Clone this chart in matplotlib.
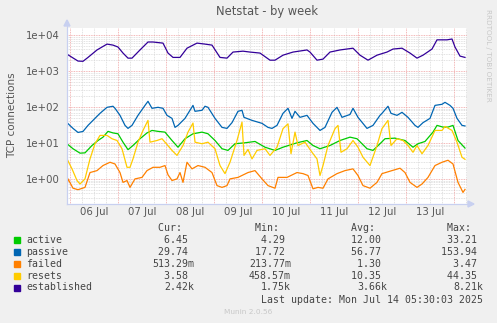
import matplotlib
matplotlib.use("Agg")
import matplotlib.pyplot as plt
from matplotlib.ticker import FixedLocator
import numpy as np

# data: hours since 06 Jul 00:00
est_h = [-1.5, 4, 6.5, 9, 13.5, 18.5, 21.5, 24, 26.5, 29, 31, 35, 39, 41.5, 46.5, 49, 51.5, 55,
         58.5, 63.5, 67.5, 71, 75, 78.5, 81.5, 86.5, 90, 95, 100, 102.5, 106.5, 111.5, 118.5,
         120, 123.5, 126.5, 130, 135, 141.5, 145, 149, 153.5, 158.5, 161.5, 166, 170, 173.5,
         176.5, 181, 183.5, 188.5, 191, 192.5, 195, 197.5]
est_v = [2950, 1900, 1870, 2400, 3870, 5630, 5280, 4670, 3170, 2290, 2290, 3870, 6440, 6440, 6000,
         3170, 2400, 2400, 4330, 6000, 5630, 5280, 2400, 2290, 3380, 3580, 3380, 3170, 2010, 2010,
         2770, 3380, 3870, 3380, 2010, 2150, 3380, 3870, 4330, 2770, 2010, 2770, 3380, 4100, 4330,
         3170, 2290, 2770, 4100, 7400, 7400, 7800, 4670, 2610, 2400]

pas_x = [67, 73, 78, 83, 88, 93, 100, 107, 113, 115, 120, 125, 128, 132, 138, 145, 148, 152, 158,
         163, 167, 172, 175, 178, 185, 193, 195, 202, 205, 208, 215, 222, 227, 232, 238, 242, 244,
         252, 262, 268, 272, 277, 283, 288, 292, 295, 300, 307, 313, 320, 325, 332, 337, 342, 350,
         353, 358, 367, 373, 380, 382, 388, 391, 397, 402, 408, 415, 418, 423, 430, 435, 442, 445,
         450, 453, 457, 462, 465]
pas_v = [36.7, 25.4, 19.6, 20.9, 30.8, 42.5, 66.7, 98, 105, 92, 58.6, 30.8, 25.4, 30.8, 58.6, 111,
         144, 92, 98, 92, 58.6, 48.3, 27.1, 30.8, 48.3, 111, 75.9, 81, 105, 98, 48.3, 27.1, 25.4,
         36.7, 75.9, 81, 51.6, 42.5, 35.1, 27.1, 25.4, 30.8, 66.7, 92, 48.3, 75.9, 51.6, 58.6,
         35.1, 22.3, 27.1, 71.1, 98, 51.6, 62, 92, 51.6, 25.4, 30.8, 58.6, 66.7, 105, 66.7, 58.6,
         71.1, 51.6, 30.8, 27.1, 36.7, 48.3, 111, 119, 135, 111, 92, 48.3, 30.8, 29.7]

act_x = [67, 73, 80, 85, 92, 98, 103, 108, 113, 118, 123, 128, 133, 140, 147, 152, 158, 165, 172,
         178, 185, 193, 202, 208, 215, 222, 228, 235, 245, 255, 265, 275, 283, 297, 307, 313, 320,
         330, 340, 350, 357, 367, 373, 380, 385, 395, 405, 413, 418, 425, 433, 437, 443, 448, 453,
         458, 465]
act_v = [9.5, 6.9, 5.2, 5.3, 8.5, 11.7, 14.5, 21, 19, 18, 10.5, 6.5, 8.5, 13.1, 19, 22.3, 21, 20,
         11.7, 7.6, 13.1, 18, 20, 18, 11.7, 6.9, 6.2, 9.5, 10.1, 11, 7.6, 6.2, 7.6, 10.1, 11.7, 8.5,
         6.9, 8.5, 11.7, 14.5, 13.1, 6.9, 6.2, 9.5, 13.1, 13.6, 11.7, 7.6, 9.5, 11, 20, 30.8, 27.6,
         27.6, 30.8, 11.7, 7.2]

res_x = [67, 72, 77, 80, 85, 90, 95, 100, 107, 112, 117, 122, 127, 130, 133, 138, 143, 148, 150,
         157, 162, 165, 172, 177, 183, 188, 193, 195, 202, 208, 215, 220, 225, 230, 237, 242, 244,
         248, 252, 257, 265, 270, 277, 283, 288, 291, 295, 298, 305, 312, 317, 320, 323, 328, 335,
         338, 341, 347, 353, 358, 363, 370, 377, 382, 388, 391, 397, 403, 408, 413, 417, 422, 428,
         435, 442, 445, 452, 457, 462, 465]
res_v = [3.6, 1.9, 0.9, 0.72, 1.0, 3.6, 9.5, 16.2, 16.2, 13.1, 11.7, 6.9, 2.1, 2.1, 3.6, 10.5,
         22.3, 42.5, 10.5, 11.7, 13.1, 10.5, 6.2, 4.5, 8.5, 20, 35.8, 10.5, 9.5, 10.5, 6.9, 2.35,
         1.4, 2.9, 11.7, 38, 4.5, 6.6, 3.6, 6.2, 6.9, 4.5, 7.6, 25, 34, 5, 20, 8.5, 10.5, 5.5, 3.6,
         1.24, 2.35, 8.5, 25, 30.8, 5.5, 6.9, 11.7, 7.6, 4.0, 2.35, 8.5, 25, 42.5, 8.5, 13.1, 11.7,
         8.5, 5.5, 8.5, 5, 8.5, 22.3, 22.3, 28.8, 22.3, 10.5, 4.0, 3.5]

fail_x = [67, 68, 73, 78, 85, 90, 97, 103, 110, 115, 120, 123, 127, 130, 135, 142, 147, 153, 160,
          165, 168, 172, 177, 180, 183, 187, 192, 198, 205, 212, 217, 222, 227, 230, 238, 248, 255,
          262, 268, 275, 278, 287, 297, 303, 308, 313, 318, 323, 328, 337, 345, 353, 358, 363, 370,
          377, 382, 392, 400, 405, 410, 417, 422, 428, 435, 442, 448, 453, 458, 463, 465]
fail_v = [0.65, 1.0, 0.55, 0.5, 0.58, 1.5, 1.7, 2.35, 2.9, 2.6, 1.5, 0.8, 0.9, 0.58, 1.0, 1.1, 1.7,
          2.1, 2.1, 2.35, 1.3, 0.9, 1.0, 1.5, 0.8, 2.9, 1.9, 2.35, 2.1, 1.5, 0.65, 0.58, 0.65, 1.0,
          1.1, 1.5, 1.7, 1.0, 0.65, 0.55, 1.1, 1.1, 1.5, 1.4, 1.24, 0.53, 0.58, 0.55, 1.0, 1.4, 1.7,
          1.9, 1.24, 0.65, 0.55, 0.8, 1.4, 1.7, 1.98, 1.5, 0.8, 0.58, 0.72, 1.1, 2.35, 2.9, 3.3,
          2.6, 0.8, 0.42, 0.51]

names = ["active", "passive", "failed", "resets", "established"]
colors = ["#00CC00", "#0066B3", "#FF8000", "#FFCC00", "#330099"]
cur = ["6.45 ", "29.74 ", "513.29m", "3.58 ", "2.42k"]
mins = ["4.29 ", "17.72 ", "213.77m", "458.57m", "1.75k"]
avgs = ["12.00 ", "56.77 ", "1.30 ", "10.35 ", "3.66k"]
maxs = ["33.21 ", "153.94 ", "3.47 ", "44.35 ", "8.21k"]
day_labels = ["06 Jul", "07 Jul", "08 Jul", "09 Jul", "10 Jul", "11 Jul", "12 Jul", "13 Jul"]


def px_to_h(xs):
    # plot pixel column -> hours (2 px per hour, 06 Jul 00:00 at px 70)
    return [(x - 70) / 2.0 for x in xs]


W, H = 497, 323
fig = plt.figure(figsize=(W / 100, H / 100), dpi=100, facecolor="#F0F0F0")
ax = fig.add_axes([67 / W, 1 - 204 / H, 400 / W, 176 / H])
ax.set_facecolor("white")

series = [
    (px_to_h(act_x), act_v),
    (px_to_h(pas_x), pas_v),
    (px_to_h(fail_x), fail_v),
    (px_to_h(res_x), res_v),
    (est_h, est_v),
]
for (hx, hv), c in zip(series, colors):
    ax.plot(hx, hv, color=c, lw=0.9, zorder=3)

ax.set_yscale("log")
ax.set_xlim(-1.5, 198.5)
ax.set_ylim(0.2, 15800)

# grid
minor_y = [m * 10.0 ** e for e in range(-1, 5) for m in range(2, 10)]
for v in minor_y:
    ax.axhline(v, color="#d8d8d8", lw=0.6, ls=(0, (1, 1)), zorder=1)
for e in range(0, 5):
    ax.axhline(10.0 ** e, color="#f0a0a0", lw=0.6, ls=(0, (1, 1)), zorder=2)
for h in range(0, 200, 6):
    if h % 24:
        ax.axvline(h, color="#d8d8d8", lw=0.6, ls=(0, (1, 1)), zorder=1)
for d in range(0, 9):
    ax.axvline(d * 24, color="#f0a0a0", lw=0.6, ls=(0, (1, 1)), zorder=2)

ax.yaxis.set_major_locator(FixedLocator([1, 10, 100, 1000, 10000]))
ax.yaxis.set_minor_locator(FixedLocator([]))
ax.set_yticklabels(["1e+00", "1e+01", "1e+02", "1e+03", "1e+04"])
ax.set_xticks([12 + 24 * i for i in range(8)])
ax.set_xticklabels(day_labels)
ax.tick_params(length=0, labelsize=7.3, colors="#555555", pad=5)
ax.tick_params(axis="x", pad=2.5)

for s in ["top", "right"]:
    ax.spines[s].set_visible(False)
for s in ["left", "bottom"]:
    ax.spines[s].set_color("#c8d0f0")
    ax.spines[s].set_linewidth(0.8)

# axis arrows
fig.add_artist(plt.Line2D([67 / W, 67 / W], [1 - 204 / H, 1 - 22 / H], color="#c8d0f0", lw=0.8))
fig.add_artist(plt.Line2D([67 / W, 472 / W], [1 - 204 / H, 1 - 204 / H], color="#c8d0f0", lw=0.8))
fig.add_artist(plt.Polygon([[64 / W, 1 - 26 / H], [70 / W, 1 - 26 / H], [67 / W, 1 - 20 / H]],
                           closed=True, color="#c8d0f0"))
fig.add_artist(plt.Polygon([[468 / W, 1 - 201 / H], [468 / W, 1 - 207 / H], [474 / W, 1 - 204 / H]],
                           closed=True, color="#c8d0f0"))

fig.text(267 / W, 1 - 12 / H, "Netstat - by week", ha="center", va="center",
         fontsize=8.3, color="#555555")
fig.text(12 / W, 1 - 115 / H, "TCP connections", rotation=90, ha="center", va="center",
         fontsize=7.5, color="#555555")
fig.text(488 / W, 1 - 55 / H, "RRDTOOL / TOBI OETIKER", rotation=-90, ha="center", va="center",
         fontsize=5.2, color="#c8c8c8")

# legend block
mono = dict(family="DejaVu Sans Mono", fontsize=7.1, color="#444444", va="center")
cols = [194, 291, 387, 483]
headers = ["Cur:", "Min:", "Avg:", "Max:"]
for cx, hd in zip(cols, headers):
    fig.text(cx / W, 1 - 228 / H, hd + "  ", ha="right", **mono)
rows_y = [240, 252, 264, 276, 287.5]
for i, y in enumerate(rows_y):
    fig.add_artist(plt.Rectangle((14 / W, 1 - (y + 3) / H), 6 / W, 6 / H, color=colors[i]))
    fig.text(26 / W, 1 - y / H, names[i], ha="left", **mono)
    for cx, vals in zip(cols, [cur, mins, avgs, maxs]):
        fig.text(cx / W, 1 - y / H, vals[i], ha="right", **mono)
fig.text(483 / W, 1 - 300 / H, "Last update: Mon Jul 14 05:30:03 2025", ha="right", **mono)
fig.text(248 / W, 1 - 312 / H, "Munin 2.0.56", ha="center", va="center", fontsize=5.3,
         color="#c8c8c8")

fig.savefig("out.png", dpi=100, facecolor=fig.get_facecolor())
